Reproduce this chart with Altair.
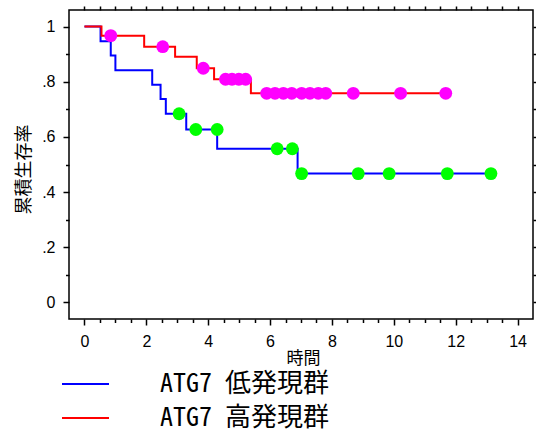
import altair as alt
import pandas as pd

groups = ["ATG7 低発現群", "ATG7 高発現群"]

# Step curve (Kaplan-Meier) for low-expression group
low_t = [0.0, 0.52, 0.85, 1.00, 2.19, 2.46, 2.63, 3.29, 4.29, 6.89, 13.14]
low_s = [1.0, 0.947, 0.895, 0.842, 0.789, 0.737, 0.684, 0.627, 0.557, 0.467, 0.467]
# Censored marks for low-expression group
low_cens_t = [3.06, 3.60, 4.29, 6.23, 6.72, 7.02, 8.85, 9.85, 11.73, 13.14]
low_cens_s = [0.684, 0.627, 0.627, 0.557, 0.557, 0.467, 0.467, 0.467, 0.467, 0.467]

# Step curve for high-expression group
high_t = [0.0, 0.55, 1.93, 2.93, 3.63, 4.19, 5.38, 11.68]
high_s = [1.0, 0.967, 0.927, 0.891, 0.849, 0.809, 0.758, 0.758]
# Censored marks for high-expression group
high_cens_t = [0.85, 2.53, 3.84, 4.56, 4.77, 4.99, 5.21, 5.89, 6.16, 6.43,
               6.70, 7.02, 7.29, 7.56, 7.80, 8.69, 10.22, 11.68]
high_cens_s = [0.967, 0.927, 0.849, 0.809, 0.809, 0.809, 0.809, 0.758, 0.758, 0.758,
               0.758, 0.758, 0.758, 0.758, 0.758, 0.758, 0.758, 0.758]

x_major = [0, 2, 4, 6, 8, 10, 12, 14]
x_minor = [0.5, 1, 1.5, 2.5, 3, 3.5, 4.5, 5, 5.5, 6.5, 7, 7.5, 8.5, 9, 9.5,
           10.5, 11, 11.5, 12.5, 13, 13.5]
x_half = [0, 0.5, 1, 1.5, 2, 2.5, 3, 3.5, 4, 4.5, 5, 5.5, 6, 6.5, 7, 7.5, 8, 8.5,
          9, 9.5, 10, 10.5, 11, 11.5, 12, 12.5, 13, 13.5, 14]
y_major = [0, 0.2, 0.4, 0.6, 0.8, 1.0]
y_minor = [0.1, 0.3, 0.5, 0.7, 0.9]
y_tenth = [0, 0.1, 0.2, 0.3, 0.4, 0.5, 0.6, 0.7, 0.8, 0.9, 1.0]

line_df = pd.DataFrame({
    "t": low_t + high_t,
    "s": low_s + high_s,
    "g": [groups[0]] * len(low_t) + [groups[1]] * len(high_t),
})
cens_df = pd.DataFrame({
    "t": low_cens_t + high_cens_t,
    "s": low_cens_s + high_cens_s,
    "g": [groups[0]] * len(low_cens_t) + [groups[1]] * len(high_cens_t),
})

xs = alt.Scale(domain=[-0.5, 14.5], nice=False, zero=False)
ys = alt.Scale(domain=[-0.06, 1.06], nice=False, zero=False)

tick_common = dict(domain=False, grid=False, tickColor="black", tickWidth=1.5)

lines = alt.Chart(line_df).mark_line(interpolate="step-after", strokeWidth=2).encode(
    x=alt.X("t:Q", scale=xs, axis=alt.Axis(
        orient="bottom", values=x_major, tickSize=6, labelFont="Liberation Sans",
        labelFontSize=16, labelColor="black", labelPadding=8, labelFlush=False,
        title="時間", titleFont="Noto Sans CJK JP", titleFontSize=17,
        titleFontWeight="normal", titleColor="black", titleX=234, titleY=39,
        titleBaseline="middle", titleAlign="center", **tick_common)),
    y=alt.Y("s:Q", scale=ys, axis=alt.Axis(
        orient="left", values=y_major, tickSize=6, labelFont="Liberation Sans",
        labelFontSize=16, labelColor="black", labelPadding=8, labelFlush=False,
        labelExpr="datum.value == 0 ? '0' : (datum.value == 1 ? '1' : '.' + round(datum.value * 10))",
        title="累積生存率", titleFont="Noto Sans CJK JP", titleFontSize=18,
        titleFontWeight="normal", titleColor="black", titleAngle=270,
        titleX=-45, titleY=159, titleAlign="center", titleBaseline="middle",
        **tick_common)),
    color=alt.Color("g:N", scale=alt.Scale(domain=groups, range=["#0000ff", "#ff0000"]),
                    legend=alt.Legend(
                        title=None, orient="none", legendX=-8, legendY=357,
                        direction="vertical", symbolType="stroke", symbolSize=2209,
                        symbolStrokeWidth=2, labelFont="Noto Sans Mono CJK JP, Noto Sans CJK JP",
                        labelFontSize=26, labelColor="black", labelOffset=50,
                        labelLimit=500, clipHeight=34, rowPadding=0, padding=0,
                        symbolOffset=0)),
)

points = alt.Chart(cens_df).mark_circle(size=165, opacity=1).encode(
    x=alt.X("t:Q", scale=xs, axis=None),
    y=alt.Y("s:Q", scale=ys, axis=None),
    fill=alt.Fill("g:N", scale=alt.Scale(domain=groups, range=["#00ff00", "#ff00ff"]),
                  legend=None),
)

ghost = alt.Chart(line_df).mark_point(opacity=0)

minor_bl = ghost.encode(
    x=alt.X("t:Q", scale=xs, axis=alt.Axis(orient="bottom", values=x_minor, tickSize=3.5,
                                            labels=False, title=None, **tick_common)),
    y=alt.Y("s:Q", scale=ys, axis=alt.Axis(orient="left", values=y_minor, tickSize=3.5,
                                            labels=False, title=None, **tick_common)),
)

top_right = ghost.encode(
    x=alt.X("t:Q", scale=xs, axis=alt.Axis(orient="top", values=x_half, tickSize=4,
                                            labels=False, title=None, **tick_common)),
    y=alt.Y("s:Q", scale=ys, axis=alt.Axis(orient="right", values=y_tenth, tickSize=4,
                                            labels=False, title=None, **tick_common)),
)

chart = alt.layer(lines, points, minor_bl, top_right).resolve_axis(
    x="independent", y="independent"
).properties(
    width=464, height=309,
    autosize=alt.AutoSizeParams(type="none"),
    padding={"left": 69, "top": 10, "right": 3, "bottom": 113},
    background="white",
).configure_view(stroke="black", strokeWidth=1.5)

chart.save("out.html", embed_options={"renderer": "svg", "actions": False})
